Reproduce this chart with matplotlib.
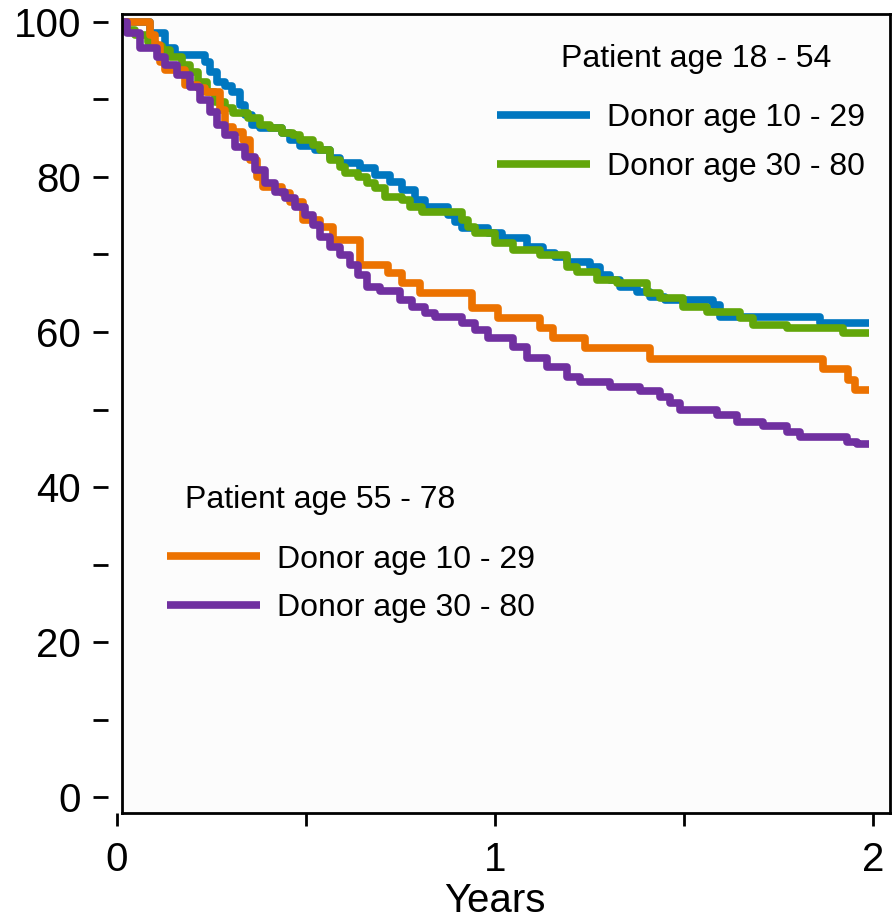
import matplotlib.pyplot as plt

plt.rcParams['font.family'] = ['Liberation Sans', 'DejaVu Sans']

# Patient age 18 - 54, donor age 10 - 29
years_blue = [0, 0.087, 0.127, 0.153, 0.233, 0.246, 0.265, 0.286, 0.304, 0.325, 0.339,
              0.357, 0.378, 0.437, 0.458, 0.484, 0.524, 0.563, 0.590, 0.643, 0.683, 0.722,
              0.754, 0.788, 0.815, 0.876, 0.894, 0.913, 0.981, 1.019, 1.085, 1.127, 1.159,
              1.190, 1.251, 1.278, 1.304, 1.331, 1.376, 1.410, 1.450, 1.577, 1.595, 1.860, 1.99]
surv_blue = [100, 98.6, 96.6, 95.7, 94.8, 93.5, 92.3, 91.7, 91.0, 89.3, 88.0,
             86.7, 86.3, 85.7, 84.8, 84.0, 83.5, 82.5, 81.8, 81.2, 80.3, 79.4,
             78.3, 77.0, 76.1, 75.1, 74.2, 73.4, 72.8, 72.1, 71.0, 70.2, 69.7,
             69.0, 68.4, 67.4, 66.7, 65.8, 65.2, 64.5, 64.1, 63.5, 61.9, 61.2, 61.2]

# Patient age 18 - 54, donor age 30 - 80
years_green = [0, 0.026, 0.048, 0.082, 0.101, 0.119, 0.140, 0.172, 0.193, 0.214, 0.238,
               0.259, 0.286, 0.307, 0.347, 0.378, 0.405, 0.437, 0.466, 0.484, 0.519,
               0.537, 0.563, 0.590, 0.603, 0.638, 0.661, 0.683, 0.709, 0.754, 0.775,
               0.807, 0.913, 0.929, 0.947, 1.000, 1.048, 1.119, 1.190, 1.217, 1.270,
               1.323, 1.402, 1.437, 1.497, 1.561, 1.648, 1.683, 1.772, 1.921, 1.99]
surv_green = [100, 99.0, 98.3, 97.4, 96.9, 96.4, 95.5, 94.5, 93.5, 92.3, 91.0,
              89.7, 88.9, 88.3, 87.6, 86.7, 86.3, 85.7, 85.4, 84.8, 84.1,
              83.5, 82.2, 81.3, 80.5, 80.0, 79.2, 78.6, 77.4, 77.0, 76.1,
              75.5, 74.5, 73.5, 72.8, 71.5, 70.6, 69.9, 68.4, 67.7, 66.7,
              66.3, 65.0, 64.4, 63.2, 62.6, 61.8, 60.9, 60.5, 59.9, 59.9]

# Patient age 55 - 78, donor age 10 - 29
years_orange = [0, 0.087, 0.101, 0.114, 0.127, 0.180, 0.214, 0.233, 0.272, 0.286, 0.307,
                0.333, 0.352, 0.370, 0.386, 0.437, 0.458, 0.492, 0.537, 0.571, 0.643,
                0.717, 0.754, 0.802, 0.939, 1.008, 1.119, 1.153, 1.238, 1.410, 1.868,
                1.934, 1.952, 1.99]
surv_orange = [100, 98.3, 97.0, 94.8, 93.8, 91.9, 91.5, 91.0, 88.6, 86.5, 85.8,
               84.8, 82.2, 80.0, 78.7, 77.9, 76.8, 74.5, 73.5, 71.9, 68.6,
               67.6, 66.3, 65.0, 63.1, 61.8, 60.5, 59.2, 57.9, 56.5, 55.2,
               53.8, 52.5, 52.5]

# Patient age 55 - 78, donor age 30 - 80
years_purple = [0, 0.026, 0.061, 0.106, 0.127, 0.159, 0.193, 0.220, 0.246, 0.265, 0.286,
                0.312, 0.339, 0.365, 0.392, 0.418, 0.444, 0.471, 0.497, 0.519, 0.537,
                0.563, 0.590, 0.616, 0.638, 0.661, 0.696, 0.749, 0.780, 0.815, 0.841,
                0.913, 0.947, 0.981, 1.048, 1.085, 1.138, 1.190, 1.225, 1.304, 1.384,
                1.437, 1.463, 1.489, 1.587, 1.640, 1.709, 1.772, 1.807, 1.931, 1.958, 1.99]
surv_purple = [100, 98.6, 96.6, 95.5, 94.5, 93.2, 91.6, 89.9, 88.4, 86.7, 85.4,
               83.9, 82.6, 80.9, 79.2, 78.1, 77.3, 76.1, 75.1, 73.8, 72.3,
               71.0, 69.9, 68.6, 67.4, 65.8, 65.3, 64.1, 63.2, 62.5, 61.9,
               61.2, 60.3, 59.2, 58.1, 56.6, 55.5, 54.2, 53.5, 52.9, 52.4,
               51.6, 50.8, 49.9, 49.3, 48.4, 47.9, 47.1, 46.5, 45.8, 45.5, 45.5]

W, H = 894, 923
fig = plt.figure(figsize=(W / 100, H / 100), dpi=100)


def box(left, right, top, bottom):
    return [left / W, 1 - bottom / H, (right - left) / W, (bottom - top) / H]


ax = fig.add_axes(box(122, 890, 14, 813))
ax.set_facecolor('#fcfcfc')
ax.set_xlim(0.0132, 2.045)
ax.set_ylim(-2.06, 101.03)
ax.set_xticks([])
ax.set_yticks([])
for sp in ax.spines.values():
    sp.set_linewidth(2)
    sp.set_color('black')

kw = dict(where='post', lw=5.5, solid_capstyle='butt')
lb, = ax.step(years_blue, surv_blue, color='#0077c0', label='Donor age 10 - 29', **kw)
lg, = ax.step(years_green, surv_green, color='#62a60a', label='Donor age 30 - 80', **kw)
lo, = ax.step(years_orange, surv_orange, color='#ec7200', label='Donor age 10 - 29', **kw)
lp, = ax.step(years_purple, surv_purple, color='#7030a0', label='Donor age 30 - 80', **kw)

leg_kw = dict(loc='upper left', frameon=False, fontsize=23, handlelength=2.9,
              handletextpad=0.55, labelspacing=0.58, borderpad=0, borderaxespad=0)
leg1 = ax.legend(handles=[lb, lg], bbox_to_anchor=(0.4883, 0.888), **leg_kw)
ax.add_artist(leg1)
ax.legend(handles=[lo, lp], bbox_to_anchor=(0.0586, 0.336), **leg_kw)

ax.text(0.5716, 0.9337, 'Patient age 18 - 54', transform=ax.transAxes,
        fontsize=23, ha='left', va='baseline')
ax.text(0.0820, 0.3817, 'Patient age 55 - 78', transform=ax.transAxes,
        fontsize=23, ha='left', va='baseline')

# detached y ticks
ax_y = fig.add_axes(box(108, 109, 14, 813))
ax_y.set_ylim(-2.06, 101.03)
ax_y.patch.set_visible(False)
for sp in ax_y.spines.values():
    sp.set_visible(False)
ax_y.set_xticks([])
ax_y.set_yticks(range(0, 101, 10))
ax_y.set_yticklabels([str(v) if v % 20 == 0 else '' for v in range(0, 101, 10)])
ax_y.tick_params(axis='y', direction='out', length=10.8, width=2, pad=8.6, labelsize=29)

# detached x ticks
ax_x = fig.add_axes(box(117, 890, 812, 813))
ax_x.set_xlim(0, (890 - 117) / 378)
ax_x.patch.set_visible(False)
for sp in ax_x.spines.values():
    sp.set_visible(False)
ax_x.set_yticks([])
ax_x.set_xticks([0, 0.5, 1, 1.5, 2])
ax_x.set_xticklabels(['0', '', '1', '', '2'])
ax_x.tick_params(axis='x', direction='out', length=9.4, width=2, pad=10.8, labelsize=29)

fig.text(495 / W, 1 - 912 / H, 'Years', fontsize=29, ha='center', va='baseline')

fig.savefig('out.png', dpi=100)
